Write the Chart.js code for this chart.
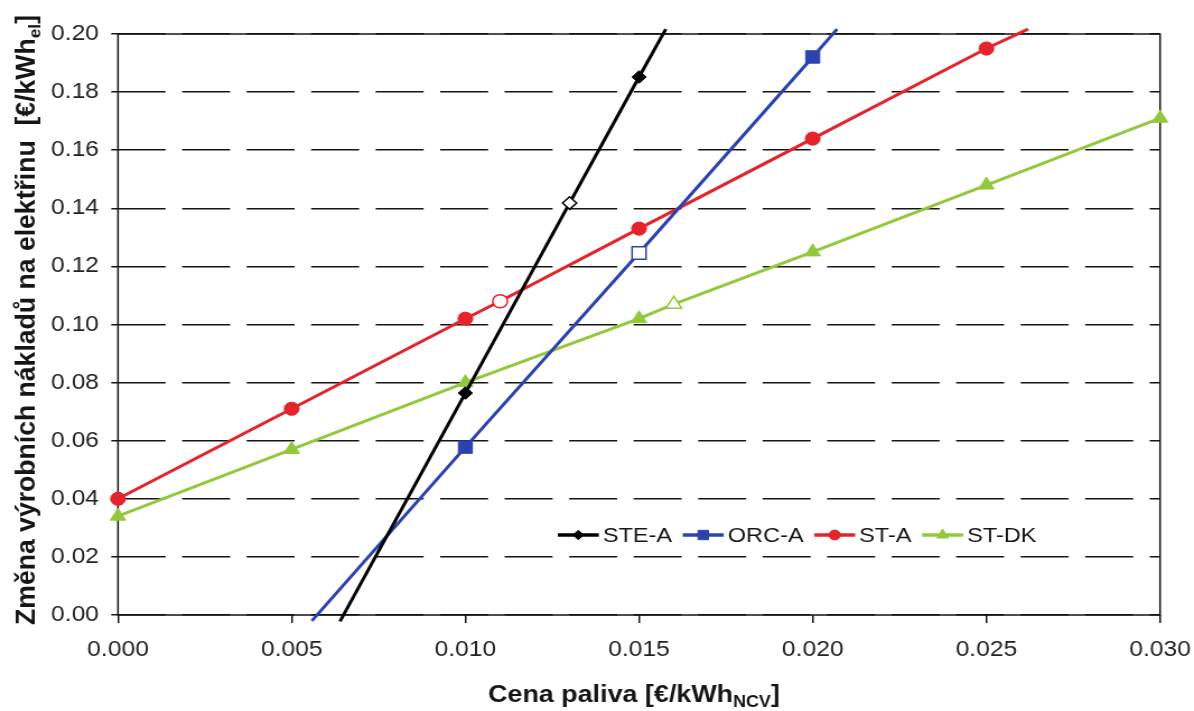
<!DOCTYPE html>
<html>
<head>
<meta charset="utf-8">
<script src="https://cdn.jsdelivr.net/npm/chart.js@4.4.1/dist/chart.umd.min.js"></script>
<style>
  html, body { margin: 0; padding: 0; background: #fff; }
  #c { display: block; }
</style>
</head>
<body>
<canvas id="c" width="1066" height="711" style="width:1194px;height:711px"></canvas>
<script>
// x: fuel price [€/kWh NCV], y: change of electricity production cost [€/kWh el]
// kind: 'val' = normal point, 'ref' = open marker, 'edge' = where the line leaves the plot
const steaX = [0.00639, 0.010, 0.013, 0.015, 0.01577];
const steaY = [-0.0022, 0.0764, 0.1418, 0.1852, 0.2017];
const steaKind = ['edge', 'val', 'ref', 'val', 'edge'];

const orcaX = [0.00558, 0.010, 0.015, 0.020, 0.0207];
const orcaY = [-0.0020, 0.0578, 0.1246, 0.1921, 0.2017];
const orcaKind = ['edge', 'val', 'ref', 'val', 'edge'];

const staX = [0.000, 0.005, 0.010, 0.011, 0.015, 0.020, 0.025, 0.0262];
const staY = [0.040, 0.071, 0.102, 0.108, 0.133, 0.164, 0.195, 0.2017];
const staKind = ['val', 'val', 'val', 'ref', 'val', 'val', 'val', 'edge'];

const stdkX = [0.000, 0.005, 0.010, 0.015, 0.016, 0.020, 0.025, 0.030];
const stdkY = [0.034, 0.057, 0.080, 0.102, 0.107, 0.125, 0.148, 0.171];
const stdkKind = ['val', 'val', 'val', 'val', 'ref', 'val', 'val', 'val'];

const seriesNames = ['STE-A', 'ORC-A', 'ST-A', 'ST-DK'];
const xTickValues = [0, 0.005, 0.010, 0.015, 0.020, 0.025, 0.030];
const yTickValues = [0, 0.02, 0.04, 0.06, 0.08, 0.10, 0.12, 0.14, 0.16, 0.18, 0.20];

const yTitle = ['Změna výrobních nákladů na elektřinu  [€/kWh', 'el', ']'];
const xTitle = ['Cena paliva [€/kWh', 'NCV', ']'];

// the source picture is stretched sideways, so the canvas is drawn narrower and scaled by css
const SX = 1.12;
const W = 1066;
const FONT = '"Liberation Sans", Arial, sans-serif';
const INK = '#151515';

function toPoints(xs, ys) {
  return xs.map((x, i) => ({ x: x, y: ys[i] }));
}

function makeSet(label, xs, ys, kinds, color, style, r) {
  return {
    label: label,
    data: toPoints(xs, ys),
    showLine: true,
    borderColor: color,
    borderWidth: 3,
    tension: 0,
    clip: false,
    pointStyle: style,
    pointRadius: c => kinds[c.dataIndex] === 'edge' ? 0 : r,
    pointHoverRadius: c => kinds[c.dataIndex] === 'edge' ? 0 : r,
    pointBackgroundColor: c => kinds[c.dataIndex] === 'ref' ? '#fff' : color,
    pointBorderColor: color,
    pointBorderWidth: c => kinds[c.dataIndex] === 'ref' ? 1.5 : 1,
    markR: r
  };
}

function mark(ctx, style, x, y, r, fill, stroke) {
  ctx.beginPath();
  if (style === 'circle') {
    ctx.arc(x, y, r, 0, Math.PI * 2);
  } else if (style === 'rect') {
    const h = r * Math.SQRT1_2;
    ctx.rect(x - h, y - h, 2 * h, 2 * h);
  } else if (style === 'rectRot') {
    ctx.moveTo(x - r, y); ctx.lineTo(x, y - r); ctx.lineTo(x + r, y); ctx.lineTo(x, y + r);
    ctx.closePath();
  } else if (style === 'triangle') {
    let a = 0;
    ctx.moveTo(x + Math.sin(a) * r, y - Math.cos(a) * r);
    a += Math.PI * 2 / 3;
    ctx.lineTo(x + Math.sin(a) * r, y - Math.cos(a) * r);
    a += Math.PI * 2 / 3;
    ctx.lineTo(x + Math.sin(a) * r, y - Math.cos(a) * r);
    ctx.closePath();
  }
  ctx.fillStyle = fill;
  ctx.fill();
  ctx.lineWidth = 1;
  ctx.strokeStyle = stroke;
  ctx.stroke();
}

// text with one subscript part, returns total width
function subText(ctx, parts, size, subSize, x, y, draw) {
  ctx.font = 'bold ' + size + 'px ' + FONT;
  const w1 = ctx.measureText(parts[0]).width;
  const w3 = ctx.measureText(parts[2]).width;
  ctx.font = 'bold ' + subSize + 'px ' + FONT;
  const w2 = ctx.measureText(parts[1]).width;
  if (draw) {
    ctx.font = 'bold ' + size + 'px ' + FONT;
    ctx.fillText(parts[0], x, y);
    ctx.fillText(parts[2], x + w1 + w2, y);
    ctx.font = 'bold ' + subSize + 'px ' + FONT;
    ctx.fillText(parts[1], x + w1, y + 5);
  }
  return w1 + w2 + w3;
}

const framePlugin = {
  id: 'frame',
  beforeDatasetsDraw(chart) {
    const { ctx, chartArea: a } = chart;
    ctx.save();
    ctx.strokeStyle = INK;
    ctx.lineWidth = 1.5;
    ctx.strokeRect(a.left, a.top, a.right - a.left, a.bottom - a.top);
    ctx.restore();
  },
  afterDraw(chart) {
    const ctx = chart.ctx;
    ctx.save();
    ctx.fillStyle = INK;
    ctx.textAlign = 'left';
    ctx.textBaseline = 'alphabetic';

    // y title, rotated, fitted to the length seen in the picture
    const yw = subText(ctx, yTitle, 23, 15, 0, 0, false);
    const yLen = 610;
    ctx.save();
    ctx.translate(31, 320);
    ctx.rotate(-Math.PI / 2);
    ctx.scale(yLen / yw, 1);
    subText(ctx, yTitle, 23, 15, -yw / 2, 0, true);
    ctx.restore();

    // x title
    const xw = subText(ctx, xTitle, 24, 16, 0, 0, false);
    subText(ctx, xTitle, 24, 16, 566 - xw / 2, 702, true);

    // legend row inside the plot
    let lx = 498;
    const ly = 535;
    ctx.font = '21px ' + FONT;
    ctx.textBaseline = 'middle';
    chart.data.datasets.forEach(ds => {
      const segLen = 36.6;
      ctx.strokeStyle = ds.borderColor;
      ctx.lineWidth = 3.5;
      ctx.beginPath();
      ctx.moveTo(lx, ly);
      ctx.lineTo(lx + segLen, ly);
      ctx.stroke();
      mark(ctx, ds.pointStyle, lx + segLen / 2, ly, ds.markR * 0.75, ds.borderColor, ds.borderColor);
      ctx.fillStyle = INK;
      ctx.fillText(ds.label, lx + segLen + 3.6, ly + 1);
      lx += segLen + 3.6 + ctx.measureText(ds.label).width + 9.5;
    });
    ctx.restore();
  }
};

new Chart(document.getElementById('c'), {
  type: 'scatter',
  data: {
    datasets: [
      makeSet(seriesNames[0], steaX, steaY, steaKind, '#000000', 'rectRot', 6.3),
      makeSet(seriesNames[1], orcaX, orcaY, orcaKind, '#2C42AE', 'rect', 8.8),
      makeSet(seriesNames[2], staX, staY, staKind, '#E5232B', 'circle', 6.6),
      makeSet(seriesNames[3], stdkX, stdkY, stdkKind, '#93C83D', 'triangle', 8)
    ]
  },
  options: {
    responsive: false,
    animation: false,
    devicePixelRatio: 1,
    layout: { padding: { top: 34, right: W - 1160 / SX, left: 0, bottom: 0 } },
    plugins: {
      legend: { display: false },
      tooltip: { enabled: false }
    },
    scales: {
      x: {
        type: 'linear',
        min: 0,
        max: 0.03,
        afterBuildTicks: s => { s.ticks = xTickValues.map(v => ({ value: v })); },
        afterFit: s => { s.height = 96; s.paddingLeft = 0; s.paddingRight = 0; },
        grid: { drawOnChartArea: false, drawTicks: true, tickLength: 8, color: INK, lineWidth: 1.5 },
        border: { display: false },
        ticks: {
          callback: v => v.toFixed(3),
          font: { family: FONT, size: 22 },
          color: '#222',
          padding: 14,
          maxRotation: 0,
          autoSkip: false
        }
      },
      y: {
        type: 'linear',
        min: 0,
        max: 0.2,
        afterBuildTicks: s => { s.ticks = yTickValues.map(v => ({ value: v })); },
        afterFit: s => { s.width = 118 / SX; s.paddingTop = 0; s.paddingBottom = 0; },
        grid: { drawTicks: true, tickLength: 6, color: INK, lineWidth: 1.5 },
        border: { display: false, dash: [48 / SX, 16.5 / SX] },
        ticks: {
          callback: v => v.toFixed(2),
          font: { family: FONT, size: 22 },
          color: '#222',
          padding: 11,
          autoSkip: false
        }
      }
    }
  },
  plugins: [framePlugin]
});
</script>
</body>
</html>
